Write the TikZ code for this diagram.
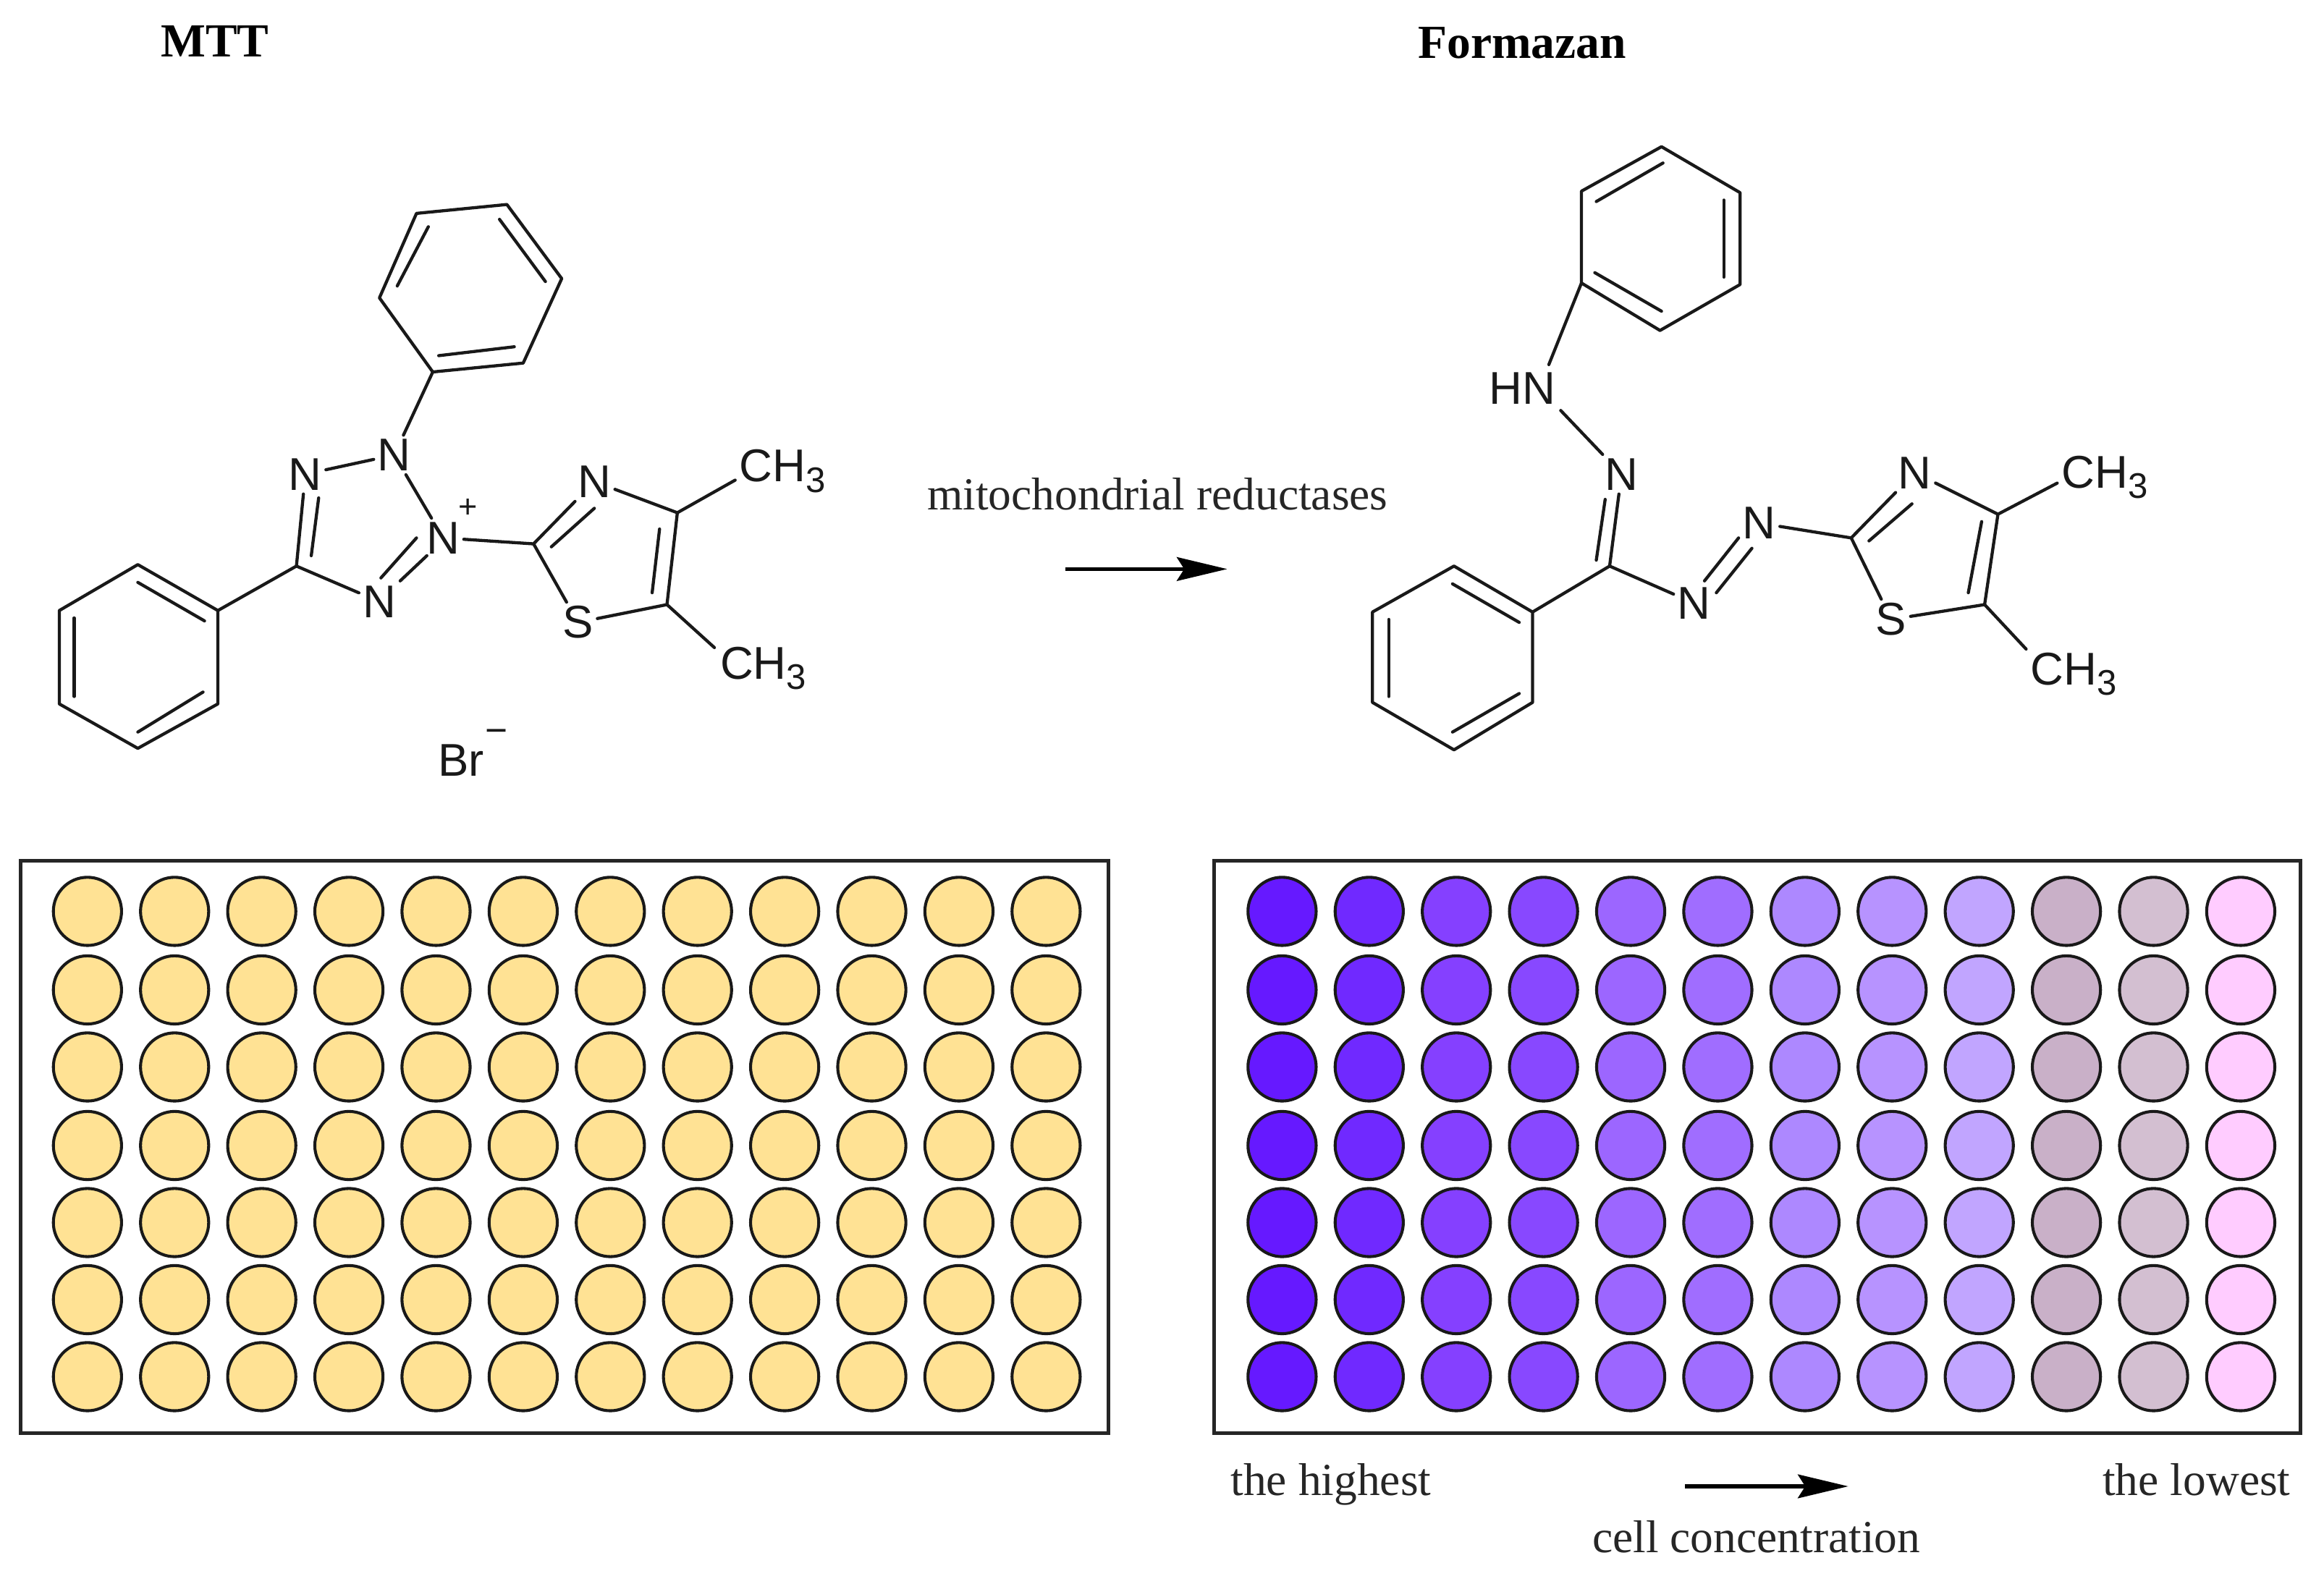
\documentclass[tikz,border=0pt]{standalone}
\usepackage{fontspec}
\setmainfont{Liberation Serif}
\newfontfamily\atomfont{Liberation Sans}
\usetikzlibrary{arrows.meta}
\definecolor{wellyellow}{HTML}{FFE294}
\tikzset{
    bond/.style={line width=2.1pt, line cap=round, line join=round, black!90},
    atom/.style={font=\atomfont\fontsize{31}{31}\selectfont, inner sep=2.5pt, text=black!90},
    caption/.style={font=\fontsize{31}{36}\selectfont, inner sep=0pt, text=black!85, anchor=base},
    heading/.style={font=\bfseries\fontsize{32}{36}\selectfont, inner sep=0pt},
    plate/.style={draw=black!85, line width=2.4pt},
    well/.style={circle, draw=black!90, line width=2pt, minimum size=46pt, inner sep=0pt},
    flow/.style={-{Stealth[length=34pt,width=16pt,inset=5pt]}, line width=2.5pt, black}
}
\newcommand{\methyl}{CH\raisebox{-7pt}{\fontsize{24}{24}\selectfont 3}}
\begin{document}
\begin{tikzpicture}[x=1pt,y=-1pt]
    \useasboundingbox (0,0) rectangle (1568,1060);

    % headings
    \node[heading] (mtt) at (145,28) {MTT};
    \node[heading] (formazan) at (1027,29) {Formazan};

    % MTT
    \draw[bond] (281,144) -- (342,138) -- (379,188) -- (353,245) -- (292,251) -- (256,201) -- cycle;
    \draw[bond] (289,153) -- (268,193);
    \draw[bond] (337,148) -- (368,190);
    \draw[bond] (296,240) -- (347,234);
    \draw[bond] (147,412) -- (93,381) -- (40,412) -- (40,475) -- (93,505) -- (147,475) -- cycle;
    \draw[bond] (138,419) -- (93,393);
    \draw[bond] (50,417) -- (50,470);
    \draw[bond] (93,494) -- (137,467);
    \coordinate (pha) at (292,251);
    \coordinate (phb) at (147,412);
    \coordinate (cring) at (200,382);
    \coordinate (cta) at (360,367);
    \coordinate (ctb) at (457,346);
    \coordinate (ctc) at (450,408);
    \coordinate (enda) at (496,324);
    \coordinate (endb) at (482,437);
    \coordinate (ndup) at (257,390);
    \coordinate (ncdn) at (281,363);
    \node[atom] (na) at (266,307) {N};
    \node[atom] (nb) at (206,320) {N};
    \node[atom] (nc) at (299,363) {N};
    \node[atom] (nd) at (256,406) {N};
    \node[atom] (ne) at (401,325) {N};
    \node[atom] (sa) at (390,420) {S};
    \node[atom,font=\atomfont\fontsize{22}{22}\selectfont,inner sep=0pt] (plus) at (316,343) {+};
    \node[atom] (cha) at (528,318) {\methyl};
    \node[atom] (chb) at (515,451) {\methyl};
    \node[atom] (br) at (311,513) {Br};
    \node[atom,font=\atomfont\fontsize{26}{26}\selectfont,inner sep=0pt] (minus) at (335,497) {\textminus};
    \draw[bond] (pha) -- (na);
    \draw[bond] (na) -- (nb);
    \draw[bond] (na) -- (nc);
    \draw[bond] (nb) -- (cring);
    \draw[bond] (215,336) -- (210,375);
    \draw[bond] (cring) -- (nd);
    \draw[bond] (cring) -- (phb);
    \draw[bond] (ndup) -- (ncdn);
    \draw[bond] (270,392) -- (288,375);
    \draw[bond] (nc) -- (cta);
    \draw[bond] (cta) -- (ne);
    \draw[bond] (372,369) -- (401,343);
    \draw[bond] (ne) -- (ctb);
    \draw[bond] (ctb) -- (ctc);
    \draw[bond] (445,357) -- (440,400);
    \draw[bond] (ctc) -- (sa);
    \draw[bond] (sa) -- (cta);
    \draw[bond] (ctb) -- (enda);
    \draw[bond] (ctc) -- (endb);

    % reaction
    \node[caption] (enzyme) at (781,344) {mitochondrial reductases};
    \coordinate (rstart) at (719,384);
    \coordinate (rend) at (828,384);
    \draw[flow] (rstart) -- (rend);

    % formazan
    \draw[bond] (1121,99) -- (1174,130) -- (1174,192) -- (1120,223) -- (1067,191) -- (1067,129) -- cycle;
    \draw[bond] (1077,136) -- (1122,110);
    \draw[bond] (1163,135) -- (1163,187);
    \draw[bond] (1076,184) -- (1121,210);
    \draw[bond] (1034,413) -- (981,382) -- (926,413) -- (926,474) -- (981,506) -- (1034,474) -- cycle;
    \draw[bond] (1025,420) -- (980,394);
    \draw[bond] (937,418) -- (937,470);
    \draw[bond] (980,494) -- (1025,468);
    \coordinate (phc) at (1067,191);
    \coordinate (phd) at (1034,413);
    \coordinate (cmid) at (1086,382);
    \coordinate (cua) at (1249,363);
    \coordinate (cub) at (1348,347);
    \coordinate (cuc) at (1339,408);
    \coordinate (endc) at (1388,326);
    \coordinate (endd) at (1367,438);
    \coordinate (hnup) at (1045,246);
    \coordinate (hndn) at (1053,277);
    \coordinate (ngup) at (1150,392);
    \coordinate (nhdn) at (1173,363);
    \node[atom] (hn) at (1027,262) {HN};
    \node[atom] (nf) at (1094,320) {N};
    \node[atom] (ng) at (1143,407) {N};
    \node[atom] (nh) at (1187,353) {N};
    \node[atom] (ni) at (1292,319) {N};
    \node[atom] (sb) at (1276,418) {S};
    \node[atom] (chc) at (1420,322) {\methyl};
    \node[atom] (chd) at (1399,455) {\methyl};
    \draw[bond] (phc) -- (hnup);
    \draw[bond] (hndn) -- (nf);
    \draw[bond] (nf) -- (cmid);
    \draw[bond] (1083,337) -- (1077,378);
    \draw[bond] (cmid) -- (phd);
    \draw[bond] (cmid) -- (ng);
    \draw[bond] (ngup) -- (nhdn);
    \draw[bond] (1158,400) -- (1182,370);
    \draw[bond] (nh) -- (cua);
    \draw[bond] (cua) -- (ni);
    \draw[bond] (1261,365) -- (1290,340);
    \draw[bond] (ni) -- (cub);
    \draw[bond] (cub) -- (cuc);
    \draw[bond] (1337,352) -- (1328,400);
    \draw[bond] (cuc) -- (sb);
    \draw[bond] (sb) -- (cua);
    \draw[bond] (cub) -- (endc);
    \draw[bond] (cuc) -- (endd);

    % plates
    \node[plate, minimum width=734pt, minimum height=386pt, inner sep=0pt] (plateA) at (381,774) {};
    \node[plate, minimum width=733pt, minimum height=386pt, inner sep=0pt] (plateB) at (1185.5,774) {};
    \foreach \r/\y in {1/615,2/668,3/720,4/773,5/825,6/877,7/929} {
        \foreach \c in {0,...,11} {
            \node[well, fill=wellyellow] (a\r-\c) at (59+58.8*\c,\y) {};
        }
        \foreach \c/\col in {0/6619FF,1/7029FF,2/8540FF,3/8848FF,4/9C66FF,5/A06DFF,6/AD88FF,7/B793FF,8/C1A5FF,9/C9B0C8,10/D3BFD1,11/FFCCFF} {
            \definecolor{wellcol}{HTML}{\col}
            \node[well, fill=wellcol] (b\r-\c) at (865+58.8*\c,\y) {};
        }
    }

    % scale below the plate
    \node[caption] (high) at (898,1009) {the highest};
    \node[caption] (low) at (1482,1009) {the lowest};
    \node[caption] (conc) at (1185,1047.5) {cell concentration};
    \coordinate (cstart) at (1137,1003);
    \coordinate (cend) at (1247,1003);
    \draw[flow] (cstart) -- (cend);
\end{tikzpicture}
\end{document}
